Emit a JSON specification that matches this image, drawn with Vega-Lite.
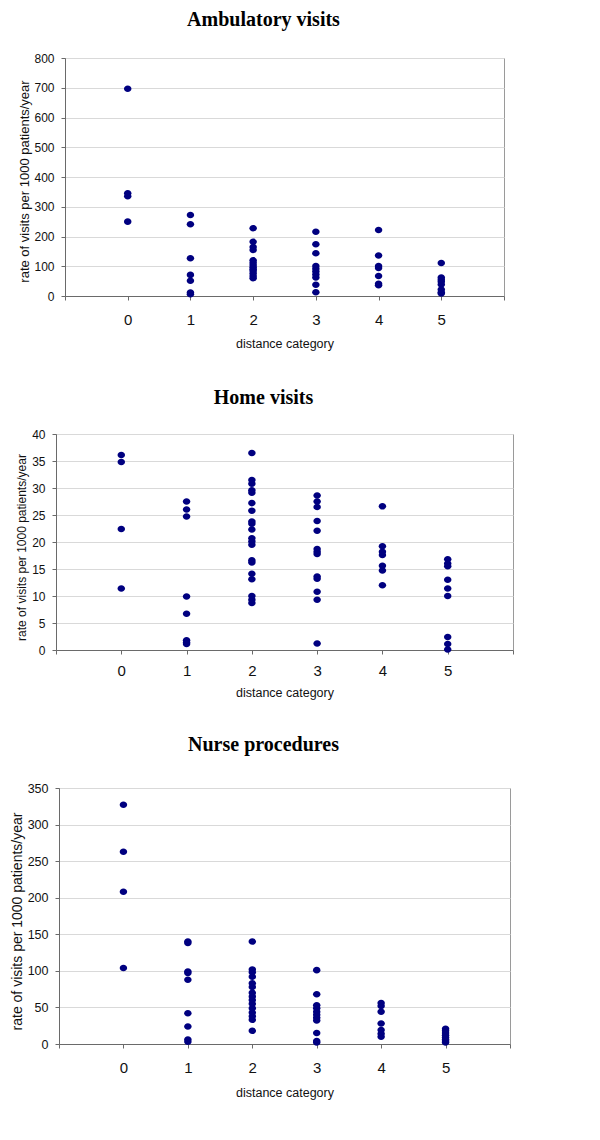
{
  "$schema": "https://vega.github.io/schema/vega-lite/v6.json",
  "background": "white",
  "padding": {"left": 9, "top": 9, "right": 2, "bottom": 2},
  "bounds": "flush",
  "center": true,
  "spacing": 138,
  "config": {
    "view": {"stroke": "#9a9a9a", "strokeWidth": 1},
    "font": "Liberation Sans",
    "axis": {
      "labelFont": "Liberation Sans",
      "titleFont": "Liberation Sans",
      "labelColor": "#111111",
      "titleColor": "#111111",
      "titleFontWeight": "normal",
      "domainColor": "#6a6a6a",
      "tickColor": "#6a6a6a",
      "gridColor": "#d9d9d9",
      "tickSize": 4
    },
    "title": {"font": "Liberation Serif", "fontSize": 20, "fontWeight": "bold", "color": "#000000", "anchor": "middle", "frame": "group", "baseline": "alphabetic", "dx": -21}
  },
  "datasets": {
    "amb": [
      {"category": 0, "rate": 697}, {"category": 0, "rate": 345}, {"category": 0, "rate": 335}, {"category": 0, "rate": 250},
      {"category": 1, "rate": 272}, {"category": 1, "rate": 241}, {"category": 1, "rate": 127}, {"category": 1, "rate": 71}, {"category": 1, "rate": 51}, {"category": 1, "rate": 12}, {"category": 1, "rate": 6},
      {"category": 2, "rate": 228}, {"category": 2, "rate": 182}, {"category": 2, "rate": 165}, {"category": 2, "rate": 155}, {"category": 2, "rate": 120}, {"category": 2, "rate": 112}, {"category": 2, "rate": 104}, {"category": 2, "rate": 97}, {"category": 2, "rate": 90}, {"category": 2, "rate": 84}, {"category": 2, "rate": 76}, {"category": 2, "rate": 67}, {"category": 2, "rate": 60},
      {"category": 3, "rate": 216}, {"category": 3, "rate": 174}, {"category": 3, "rate": 144}, {"category": 3, "rate": 101}, {"category": 3, "rate": 92}, {"category": 3, "rate": 82}, {"category": 3, "rate": 72}, {"category": 3, "rate": 62}, {"category": 3, "rate": 38}, {"category": 3, "rate": 13},
      {"category": 4, "rate": 222}, {"category": 4, "rate": 136}, {"category": 4, "rate": 101}, {"category": 4, "rate": 94}, {"category": 4, "rate": 67}, {"category": 4, "rate": 41}, {"category": 4, "rate": 36},
      {"category": 5, "rate": 111}, {"category": 5, "rate": 62}, {"category": 5, "rate": 55}, {"category": 5, "rate": 48}, {"category": 5, "rate": 39}, {"category": 5, "rate": 22}, {"category": 5, "rate": 13}, {"category": 5, "rate": 8}
    ],
    "home": [
      {"category": 0, "rate": 36.1}, {"category": 0, "rate": 34.8}, {"category": 0, "rate": 22.4}, {"category": 0, "rate": 11.4},
      {"category": 1, "rate": 27.5}, {"category": 1, "rate": 26.0}, {"category": 1, "rate": 24.7}, {"category": 1, "rate": 9.9}, {"category": 1, "rate": 6.7}, {"category": 1, "rate": 1.8}, {"category": 1, "rate": 1.4}, {"category": 1, "rate": 1.1},
      {"category": 2, "rate": 36.5}, {"category": 2, "rate": 31.5}, {"category": 2, "rate": 30.8}, {"category": 2, "rate": 29.6}, {"category": 2, "rate": 29.1}, {"category": 2, "rate": 27.2}, {"category": 2, "rate": 25.8}, {"category": 2, "rate": 23.8}, {"category": 2, "rate": 23.4}, {"category": 2, "rate": 22.3}, {"category": 2, "rate": 20.7}, {"category": 2, "rate": 20.1}, {"category": 2, "rate": 19.5}, {"category": 2, "rate": 16.6}, {"category": 2, "rate": 16.2}, {"category": 2, "rate": 14.1}, {"category": 2, "rate": 13.1}, {"category": 2, "rate": 10.0}, {"category": 2, "rate": 9.3}, {"category": 2, "rate": 8.7},
      {"category": 3, "rate": 28.6}, {"category": 3, "rate": 27.5}, {"category": 3, "rate": 26.5}, {"category": 3, "rate": 23.9}, {"category": 3, "rate": 22.1}, {"category": 3, "rate": 18.7}, {"category": 3, "rate": 18.2}, {"category": 3, "rate": 17.8}, {"category": 3, "rate": 13.6}, {"category": 3, "rate": 13.2}, {"category": 3, "rate": 10.8}, {"category": 3, "rate": 9.3}, {"category": 3, "rate": 1.2},
      {"category": 4, "rate": 26.6}, {"category": 4, "rate": 19.2}, {"category": 4, "rate": 18.2}, {"category": 4, "rate": 17.6}, {"category": 4, "rate": 15.6}, {"category": 4, "rate": 14.7}, {"category": 4, "rate": 12.0},
      {"category": 5, "rate": 16.8}, {"category": 5, "rate": 16.0}, {"category": 5, "rate": 15.5}, {"category": 5, "rate": 13.0}, {"category": 5, "rate": 11.4}, {"category": 5, "rate": 10.0}, {"category": 5, "rate": 2.4}, {"category": 5, "rate": 1.1}, {"category": 5, "rate": 0.1}
    ],
    "nurse": [
      {"category": 0, "rate": 327}, {"category": 0, "rate": 263}, {"category": 0, "rate": 208}, {"category": 0, "rate": 104},
      {"category": 1, "rate": 140}, {"category": 1, "rate": 138}, {"category": 1, "rate": 99}, {"category": 1, "rate": 97}, {"category": 1, "rate": 88}, {"category": 1, "rate": 42}, {"category": 1, "rate": 24}, {"category": 1, "rate": 6}, {"category": 1, "rate": 3},
      {"category": 2, "rate": 140}, {"category": 2, "rate": 102}, {"category": 2, "rate": 98}, {"category": 2, "rate": 92}, {"category": 2, "rate": 83}, {"category": 2, "rate": 78}, {"category": 2, "rate": 70}, {"category": 2, "rate": 65}, {"category": 2, "rate": 60}, {"category": 2, "rate": 55}, {"category": 2, "rate": 49}, {"category": 2, "rate": 43}, {"category": 2, "rate": 38}, {"category": 2, "rate": 33}, {"category": 2, "rate": 18},
      {"category": 3, "rate": 101}, {"category": 3, "rate": 68}, {"category": 3, "rate": 53}, {"category": 3, "rate": 49}, {"category": 3, "rate": 44}, {"category": 3, "rate": 40}, {"category": 3, "rate": 36}, {"category": 3, "rate": 32}, {"category": 3, "rate": 15}, {"category": 3, "rate": 4}, {"category": 3, "rate": 2},
      {"category": 4, "rate": 56}, {"category": 4, "rate": 52}, {"category": 4, "rate": 44}, {"category": 4, "rate": 28}, {"category": 4, "rate": 19}, {"category": 4, "rate": 14}, {"category": 4, "rate": 10},
      {"category": 5, "rate": 21}, {"category": 5, "rate": 18}, {"category": 5, "rate": 15}, {"category": 5, "rate": 12}, {"category": 5, "rate": 9}, {"category": 5, "rate": 6}, {"category": 5, "rate": 4}, {"category": 5, "rate": 2}
    ]
  },
  "vconcat": [
    {
      "title": {"text": "Ambulatory visits", "offset": 22},
      "width": 439,
      "height": 238,
      "data": {"name": "amb"},
      "mark": {"type": "point", "filled": true, "opacity": 1, "color": "#000080", "shape": "M-1,0A1,0.87,0,1,0,1,0A1,0.87,0,1,0,-1,0Z", "size": 56},
      "encoding": {
        "x": {"field": "category", "type": "quantitative", "scale": {"domain": [-1, 6], "nice": false, "zero": false},
          "axis": {"values": [-1, 0, 1, 2, 3, 4, 5, 6], "labelExpr": "datum.value >= 0 && datum.value <= 5 ? datum.label : ''", "grid": false, "title": "distance category", "labelFontSize": 15, "labelPadding": 12, "titleFontSize": 12.5, "titleY": 47, "titleBaseline": "middle"}},
        "y": {"field": "rate", "type": "quantitative", "scale": {"domain": [0, 800], "nice": false},
          "axis": {"values": [0, 100, 200, 300, 400, 500, 600, 700, 800], "title": "rate of visits per 1000 patients/year", "labelFontSize": 12, "labelPadding": 7, "titleFontSize": 13, "titleX": -40.6, "titleY": 123, "titleBaseline": "middle"}}
      }
    },
    {
      "title": {"text": "Home visits", "offset": 20.5},
      "width": 457,
      "height": 216,
      "data": {"name": "home"},
      "mark": {"type": "point", "filled": true, "opacity": 1, "color": "#000080", "shape": "M-1,0A1,0.87,0,1,0,1,0A1,0.87,0,1,0,-1,0Z", "size": 56},
      "encoding": {
        "x": {"field": "category", "type": "quantitative", "scale": {"domain": [-1, 6], "nice": false, "zero": false},
          "axis": {"values": [-1, 0, 1, 2, 3, 4, 5, 6], "labelExpr": "datum.value >= 0 && datum.value <= 5 ? datum.label : ''", "grid": false, "title": "distance category", "labelFontSize": 15, "labelPadding": 9, "titleFontSize": 12.5, "titleY": 42, "titleBaseline": "middle"}},
        "y": {"field": "rate", "type": "quantitative", "scale": {"domain": [0, 40], "nice": false},
          "axis": {"values": [0, 5, 10, 15, 20, 25, 30, 35, 40], "title": "rate of visits per 1000 patients/year", "labelFontSize": 12, "labelPadding": 7, "titleFontSize": 12, "titleX": -34.3, "titleY": 113, "titleBaseline": "middle"}}
      }
    },
    {
      "title": {"text": "Nurse procedures", "offset": 27},
      "width": 451,
      "height": 256,
      "data": {"name": "nurse"},
      "mark": {"type": "point", "filled": true, "opacity": 1, "color": "#000080", "shape": "M-1,0A1,0.87,0,1,0,1,0A1,0.87,0,1,0,-1,0Z", "size": 56},
      "encoding": {
        "x": {"field": "category", "type": "quantitative", "scale": {"domain": [-1, 6], "nice": false, "zero": false},
          "axis": {"values": [-1, 0, 1, 2, 3, 4, 5, 6], "labelExpr": "datum.value >= 0 && datum.value <= 5 ? datum.label : ''", "grid": false, "title": "distance category", "labelFontSize": 15, "labelPadding": 12, "titleFontSize": 12.5, "titleY": 48, "titleBaseline": "middle"}},
        "y": {"field": "rate", "type": "quantitative", "scale": {"domain": [0, 350], "nice": false},
          "axis": {"values": [0, 50, 100, 150, 200, 250, 300, 350], "title": "rate of visits per 1000 patients/year", "labelFontSize": 12.5, "labelPadding": 7, "titleFontSize": 14, "titleX": -41.7, "titleY": 133, "titleBaseline": "middle"}}
      }
    }
  ]
}
